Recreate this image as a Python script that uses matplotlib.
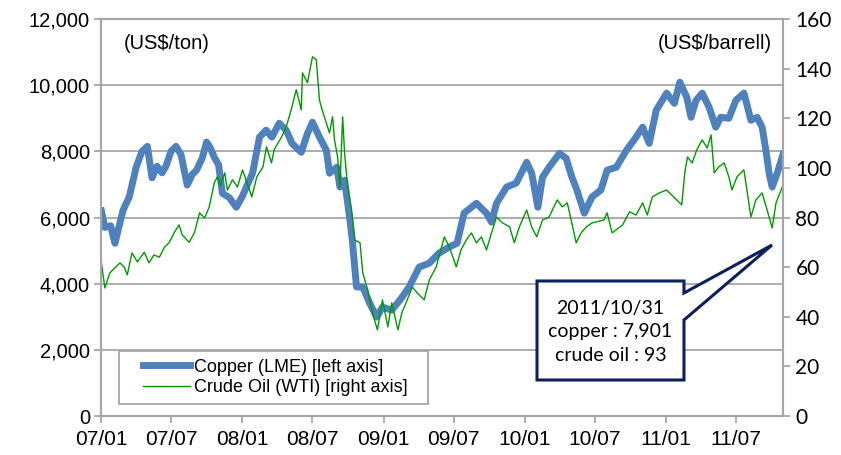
import matplotlib
matplotlib.use("Agg")

import matplotlib.pyplot as plt
import numpy as np
import pandas as pd
from matplotlib.patches import Polygon, Rectangle
from matplotlib.ticker import FuncFormatter, MultipleLocator

# copper (LME), US$/ton
copper_dates = [
    "2007-01-02", "2007-01-11", "2007-01-26", "2007-02-06", "2007-02-27", "2007-03-15",
    "2007-04-02", "2007-04-17", "2007-05-01", "2007-05-13", "2007-05-26", "2007-06-08",
    "2007-06-18", "2007-07-01", "2007-07-14", "2007-07-27", "2007-08-12", "2007-08-25",
    "2007-09-05", "2007-09-20", "2007-10-01", "2007-10-11", "2007-10-21", "2007-11-01",
    "2007-11-11", "2007-11-29", "2007-12-17", "2008-01-02", "2008-01-12", "2008-01-28",
    "2008-02-15", "2008-03-03", "2008-03-18", "2008-04-06", "2008-04-24", "2008-05-09",
    "2008-06-02", "2008-06-18", "2008-07-01", "2008-07-19", "2008-08-06", "2008-08-14",
    "2008-09-02", "2008-09-10", "2008-09-22", "2008-10-05", "2008-10-12", "2008-10-23",
    "2008-11-08", "2008-11-26", "2008-12-14", "2008-12-29", "2009-01-22", "2009-02-12",
    "2009-03-08", "2009-04-03", "2009-04-29", "2009-05-24", "2009-06-20", "2009-07-10",
    "2009-07-28", "2009-08-29", "2009-09-24", "2009-10-07", "2009-10-20", "2009-11-15",
    "2009-12-10", "2010-01-06", "2010-01-19", "2010-02-04", "2010-02-16", "2010-03-05",
    "2010-04-01", "2010-04-18", "2010-05-03", "2010-05-16", "2010-06-04", "2010-06-24",
    "2010-07-17", "2010-08-02", "2010-08-26", "2010-09-21", "2010-10-16", "2010-11-02",
    "2010-11-19", "2010-12-07", "2011-01-03", "2011-01-23", "2011-02-06", "2011-02-24",
    "2011-03-07", "2011-03-20", "2011-04-05", "2011-04-23", "2011-05-10", "2011-05-23",
    "2011-06-13", "2011-07-01", "2011-07-22", "2011-08-09", "2011-08-25", "2011-09-07",
    "2011-09-18", "2011-09-25", "2011-10-03", "2011-10-16", "2011-10-31",
]
copper = [
    6200, 5700, 5750, 5220, 6220, 6620,
    7520, 8000, 8150, 7200, 7550, 7350,
    7550, 8000, 8150, 7900, 6980, 7300,
    7430, 7800, 8280, 8100, 7820, 7600,
    6730, 6600, 6310, 6650, 6920, 7340,
    8430, 8640, 8430, 8850, 8640, 8240,
    7970, 8540, 8880, 8430, 8030, 7340,
    7520, 6920, 7130, 6000, 5310, 3900,
    3900, 3410, 2990, 3290, 3200, 3500,
    3900, 4500, 4620, 4920, 5110, 5220,
    6130, 6430, 6130, 5860, 6430, 6920,
    7040, 7670, 7340, 6310, 7220, 7520,
    7940, 7790, 7220, 6830, 6130, 6620,
    6830, 7430, 7520, 8030, 8430, 8730,
    8240, 9240, 9760, 9450, 10090, 9640,
    9030, 9540, 9760, 9330, 8730, 9030,
    9000, 9540, 9760, 8940, 9030, 8730,
    7940, 7340, 6920, 7340, 7901,
]

# crude oil (WTI), US$/barrel
oil_dates = [
    "2007-01-02", "2007-01-11", "2007-01-24", "2007-02-06", "2007-02-19", "2007-03-02",
    "2007-03-10", "2007-03-22", "2007-04-05", "2007-04-23", "2007-05-05", "2007-05-18",
    "2007-06-01", "2007-06-14", "2007-06-27", "2007-07-09", "2007-07-22", "2007-07-30",
    "2007-08-17", "2007-08-31", "2007-09-13", "2007-09-26", "2007-10-08", "2007-10-21",
    "2007-10-29", "2007-11-06", "2007-11-17", "2007-11-24", "2007-12-07", "2007-12-20",
    "2008-01-02", "2008-01-16", "2008-01-26", "2008-02-08", "2008-02-24", "2008-03-04",
    "2008-03-17", "2008-03-24", "2008-04-12", "2008-04-24", "2008-05-07", "2008-05-20",
    "2008-06-02", "2008-06-05", "2008-06-18", "2008-07-01", "2008-07-11", "2008-07-19",
    "2008-07-26", "2008-08-14", "2008-08-22", "2008-08-27", "2008-09-04", "2008-09-10",
    "2008-09-17", "2008-09-22", "2008-09-30", "2008-10-10", "2008-10-18", "2008-11-01",
    "2008-11-08", "2008-11-21", "2008-12-03", "2008-12-16", "2008-12-29", "2009-01-12",
    "2009-01-22", "2009-02-07", "2009-02-17", "2009-03-03", "2009-03-16", "2009-03-29",
    "2009-04-16", "2009-04-29", "2009-05-17", "2009-06-07", "2009-06-20", "2009-07-08",
    "2009-07-20", "2009-08-03", "2009-08-16", "2009-08-29", "2009-09-11", "2009-09-24",
    "2009-10-07", "2009-10-20", "2009-11-05", "2009-11-23", "2009-12-05", "2009-12-18",
    "2010-01-06", "2010-01-19", "2010-02-01", "2010-02-16", "2010-03-05", "2010-03-26",
    "2010-04-08", "2010-04-21", "2010-05-01", "2010-05-14", "2010-05-27", "2010-06-09",
    "2010-06-24", "2010-07-25", "2010-08-02", "2010-08-15", "2010-09-11", "2010-09-29",
    "2010-10-16", "2010-11-02", "2010-11-14", "2010-11-27", "2010-12-15", "2011-01-03",
    "2011-01-23", "2011-02-11", "2011-02-19", "2011-02-26", "2011-03-10", "2011-03-22",
    "2011-04-05", "2011-04-18", "2011-04-28", "2011-05-06", "2011-05-18", "2011-06-01",
    "2011-06-13", "2011-06-21", "2011-07-04", "2011-07-22", "2011-08-09", "2011-08-22",
    "2011-09-07", "2011-09-20", "2011-10-03", "2011-10-13", "2011-10-31",
]
oil = [
    61.7, 51.6, 57.7, 59.7, 61.7, 60.0,
    56.9, 65.7, 62.1, 66.0, 61.7, 64.9,
    64.0, 68.0, 70.0, 73.8, 77.0, 73.0,
    70.0, 74.0, 81.9, 79.8, 84.3, 94.0,
    96.4, 93.0, 98.0, 91.0, 95.2, 92.3,
    99.2, 93.0, 88.3, 96.4, 100.4, 108.5,
    102.0, 107.3, 112.5, 116.5, 123.4, 131.5,
    123.4, 138.3, 134.3, 144.8, 143.5, 127.4,
    123.4, 114.1, 120.6, 111.3, 104.4, 92.3,
    120.6, 106.0, 92.3, 83.0, 71.0, 69.8,
    57.7, 50.8, 41.5, 34.7, 46.8, 35.9,
    45.6, 34.7, 41.5, 46.8, 52.0, 49.6,
    46.8, 54.8, 60.1, 72.2, 68.1, 60.1,
    66.9, 71.0, 73.8, 69.8, 72.2, 66.9,
    73.8, 80.2, 77.8, 76.2, 69.8, 76.2,
    83.0, 76.2, 72.2, 79.0, 80.2, 87.1,
    84.3, 85.9, 79.0, 69.8, 73.8, 76.2,
    77.8, 79.0, 81.9, 73.8, 77.0, 82.3,
    81.0, 85.9, 81.0, 88.3, 89.9, 91.1,
    88.0, 85.1, 98.0, 104.4, 102.0, 107.3,
    111.3, 108.0, 113.3, 98.0, 100.4, 102.0,
    96.4, 91.1, 96.4, 99.2, 80.2, 87.1,
    89.9, 83.0, 75.8, 85.9, 93.0,
]

tick_dates = ["2007-01-01", "2007-07-01", "2008-01-01", "2008-07-01", "2009-01-01",
              "2009-07-01", "2010-01-01", "2010-07-01", "2011-01-01", "2011-07-01"]
tick_labels = ["07/01", "07/07", "08/01", "08/07", "09/01",
               "09/07", "10/01", "10/07", "11/01", "11/07"]

callout_text = "2011/10/31\ncopper : 7,901\ncrude oil : 93"

BLUE = "#4F81BD"
GREEN = "#009A00"
GRID = "#A6A6A6"
NAVY = "#0D1F5C"

plt.rcParams["font.family"] = ["Liberation Sans", "DejaVu Sans"]

fig = plt.figure(figsize=(8.41, 4.55), dpi=100)
ax = fig.add_axes([101 / 841, 1 - 416 / 455, 682 / 841, 397 / 455])
ax2 = ax.twinx()

ax.plot(pd.to_datetime(copper_dates), copper, color=BLUE, lw=5.0,
        solid_joinstyle="round", label="Copper (LME) [left axis]")
ax2.plot(pd.to_datetime(oil_dates), oil, color=GREEN, lw=1.0,
         label="Crude Oil (WTI) [right axis]")

ax.set_xlim(pd.Timestamp("2007-01-01"), pd.Timestamp("2011-10-31"))
ax.set_ylim(0, 12000)
ax2.set_ylim(0, 160)
ax.yaxis.set_major_locator(MultipleLocator(2000))
ax.yaxis.set_major_formatter(FuncFormatter(lambda v, p: f"{int(v):,}"))
ax2.yaxis.set_major_locator(MultipleLocator(20))
ax.set_xticks(pd.to_datetime(tick_dates))
ax.set_xticklabels(tick_labels)

ax.grid(axis="y", color=GRID, lw=1.3)
ax.set_axisbelow(True)

for a in (ax, ax2):
    for side in ("left", "right", "bottom", "top"):
        a.spines[side].set_color(GRID)
        a.spines[side].set_linewidth(1.5)
    a.tick_params(color=GRID, width=1.3, length=5, direction="out")
ax.tick_params(axis="y", labelsize=14.5, pad=3)
ax.tick_params(axis="x", labelsize=15, pad=5)
for lbl in ax2.get_yticklabels():
    lbl.set_family(["Lato", "DejaVu Sans"])
    lbl.set_fontsize(15)
ax2.tick_params(axis="y", pad=4)

ax.text(0.034, 0.939, "(US$/ton)", transform=ax.transAxes, fontsize=14.5,
        ha="left", va="center")
ax2.text(0.984, 0.939, "(US$/barrell)", transform=ax2.transAxes, fontsize=14.5,
         ha="right", va="center")

# legend frame drawn separately so its padding matches the original
ax2.add_patch(Rectangle((0.0264, 0.0302), 0.4531, 0.1335, transform=ax2.transAxes,
                        facecolor="white", edgecolor=GRID, lw=1.3, zorder=4))
h1, l1 = ax.get_legend_handles_labels()
h2, l2 = ax2.get_legend_handles_labels()
leg = ax2.legend(h1 + h2, l1 + l2, loc="center left", bbox_to_anchor=(0.0616, 0.097),
                 fontsize=13, frameon=False, handlelength=2.6, handletextpad=0.25,
                 borderpad=0, labelspacing=0.2, borderaxespad=0)
leg.set_zorder(5)

# callout box with a wedge pointing to the last data point
box = np.array([
    [0.6393, 0.3401], [0.8548, 0.3401], [0.8548, 0.3098], [0.9839, 0.4307],
    [0.8548, 0.2418], [0.8548, 0.0907], [0.6393, 0.0907],
])
ax2.add_patch(Polygon(box, closed=True, transform=ax2.transAxes, facecolor="white",
                      edgecolor=NAVY, lw=2.2, joinstyle="miter", zorder=5))
ax2.text(0.747, 0.212, callout_text, transform=ax2.transAxes, ha="center",
         va="center", fontsize=14, linespacing=1.45, family=["Lato", "DejaVu Sans"],
         zorder=6)

fig.savefig("out.png", dpi=100)
